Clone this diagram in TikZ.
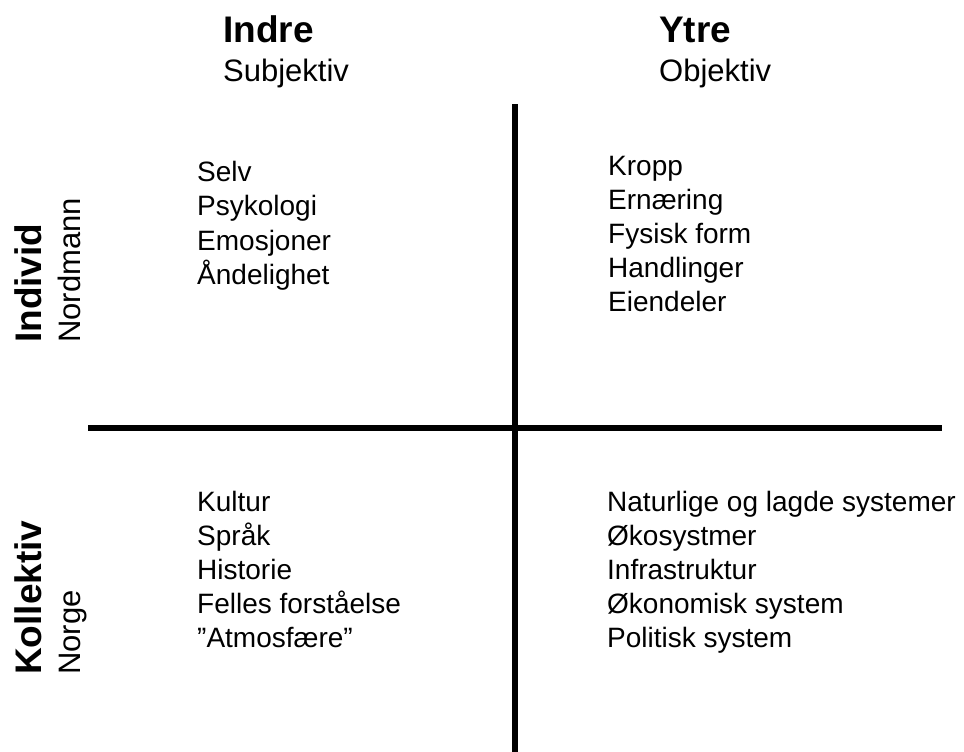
\documentclass[tikz,border=0pt]{standalone}
\usepackage{fontspec}
\setmainfont{Liberation Sans}
\begin{document}
\begin{tikzpicture}[x=1pt,y=1pt,
  item/.style={anchor=base west, inner sep=0pt, font=\fontsize{28}{32}\selectfont},
  head/.style={anchor=base west, inner sep=0pt, font=\fontsize{37}{40}\selectfont\bfseries},
  sub/.style={anchor=base west, inner sep=0pt, font=\fontsize{31}{34}\selectfont},
  axislabel/.style={anchor=base west, inner sep=0pt, rotate=90, font=\fontsize{37}{40}\selectfont\bfseries},
  axissub/.style={anchor=base west, inner sep=0pt, rotate=90, font=\fontsize{31}{34}\selectfont},
  axisline/.style={line width=6.5pt}]
\useasboundingbox (0,0) rectangle (964,-752);

% axes
\coordinate (vtop) at (515,-104);
\coordinate (vbot) at (515,-752);
\coordinate (hl) at (88,-428);
\coordinate (hr) at (942,-428);
\draw[axisline] (vtop) -- (vbot);
\draw[axisline] (hl) -- (hr);

% column headers
\node[head] (indre) at (223,-42.5) {Indre};
\node[sub] (subj) at (223,-81.5) {Subjektiv};
\node[head] (ytre) at (659,-42.5) {Ytre};
\node[sub] (obj) at (659,-81.5) {Objektiv};

% row headers
\node[axislabel] (individ) at (41.5,-343) {Individ};
\node[axissub] (nordmann) at (80,-343) {Nordmann};
\node[axislabel] (kollektiv) at (41.5,-675) {Kollektiv};
\node[axissub] (norge) at (80,-675) {Norge};

% upper left
\node[item] (ul1) at (197,-181) {Selv};
\node[item] (ul2) at (197,-215.5) {Psykologi};
\node[item] (ul3) at (197,-250) {Emosjoner};
\node[item] (ul4) at (197,-284.5) {Åndelighet};

% upper right
\node[item] (ur1) at (608,-175) {Kropp};
\node[item] (ur2) at (608,-209) {Ernæring};
\node[item] (ur3) at (608,-243) {Fysisk form};
\node[item] (ur4) at (608,-277) {Handlinger};
\node[item] (ur5) at (608,-311) {Eiendeler};

% lower left
\node[item] (ll1) at (197,-511) {Kultur};
\node[item] (ll2) at (197,-545) {Språk};
\node[item] (ll3) at (197,-579) {Historie};
\node[item] (ll4) at (197,-613) {Felles forståelse};
\node[item] (ll5) at (197,-647) {”Atmosfære”};

% lower right
\node[item] (lr1) at (607,-511) {Naturlige og lagde systemer};
\node[item] (lr2) at (607,-545) {Økosystmer};
\node[item] (lr3) at (607,-579) {Infrastruktur};
\node[item] (lr4) at (607,-613) {Økonomisk system};
\node[item] (lr5) at (607,-647) {Politisk system};
\end{tikzpicture}
\end{document}
